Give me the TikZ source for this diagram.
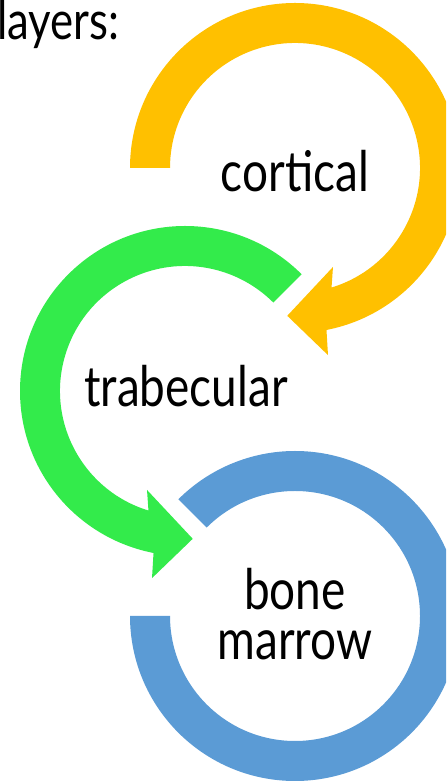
\documentclass[tikz,border=0pt]{standalone}
\usepackage{fontspec}
\setmainfont{Lato}[FakeStretch=0.82]
\definecolor{gold}{HTML}{FFC000}
\definecolor{leaf}{HTML}{33EB4B}
\definecolor{sky}{HTML}{5B9BD5}

% ring from #1 clockwise round the origin, ending in a head
\newcommand\ringarrow[2]{%
  \fill[#2] (#1:165) arc[start angle=#1, end angle=-79, radius=165]
    -- (-80:190) -- (-93:148) -- (-69:106) -- (-73:125)
    arc[start angle=-73, end angle=#1, radius=125] -- cycle;}

\begin{document}
\begin{tikzpicture}[x=0.75pt, y=0.75pt,
      layer/.style={font=\fontsize{42}{37}\selectfont, align=center, inner sep=0pt}]
    \useasboundingbox (0,0) rectangle (446,781);
    \clip (0,0) rectangle (446,781);
    \coordinate (cort) at (295,613);
    \coordinate (trab) at (185,390);
    \coordinate (marr) at (295,165);
    % rings
    \begin{scope}[shift={(cort)}]
      \ringarrow{180}{gold}
    \end{scope}
    \begin{scope}[shift={(trab)}, xscale=-1]
      \ringarrow{135}{leaf}
    \end{scope}
    \begin{scope}[shift={(marr)}]
      \fill[sky] (180:165) arc[start angle=180, end angle=495, radius=165]
        -- (135:125) arc[start angle=135, end angle=-180, radius=125] -- cycle;
    \end{scope}
    % labels
    \node[layer, font=\fontsize{40}{40}\selectfont, anchor=base west] (title) at (-3,741) {layers:};
    \node[layer, anchor=base] (cortical) at (295,589) {cortical};
    \node[layer, anchor=base] (trabecular) at (186,374) {trabecular};
    \node[layer] (marrow) at (295,167) {bone\\marrow};
  \end{tikzpicture}
\end{document}
